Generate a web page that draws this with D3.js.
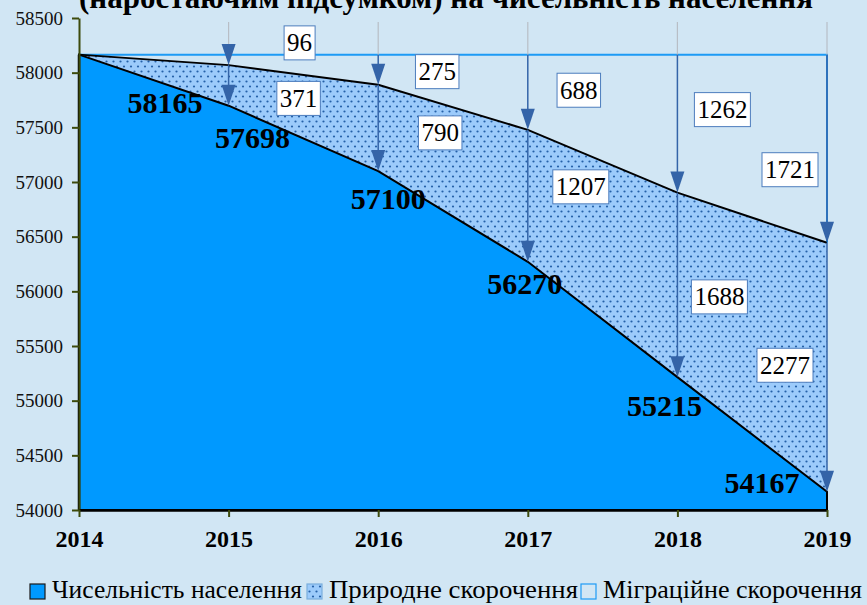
<!DOCTYPE html>
<html>
<head>
<meta charset="utf-8">
<script src="https://cdn.jsdelivr.net/npm/d3@7"></script>
<style>
  body { margin: 0; background: #d1e6f4; }
  svg { display: block; }
  svg text { font-family: "Liberation Serif", "Times New Roman", serif; }
</style>
</head>
<body>
<svg width="867" height="605"></svg>
<script>
const years = [2014, 2015, 2016, 2017, 2018, 2019];
const population = [58165, 57698, 57100, 56270, 55215, 54167];
const naturalDecrease = [0, 371, 790, 1207, 1688, 2277];
const migrationDecrease = [0, 96, 275, 688, 1262, 1721];
const yTicks = [54000, 54500, 55000, 55500, 56000, 56500, 57000, 57500, 58000, 58500];
const legendLabels = ["Чисельність населення", "Природне скорочення", "Міграційне скорочення"];
const title = "(наростаючим підсумком) на чисельність населення";

const svg = d3.select("svg");
const base = population[0];

const xs = d3.scaleLinear().domain([2014, 2019]).range([79, 827]);
const ys = d3.scaleLinear().domain([54000, 58500]).range([510, 18]);

const rows = years.map((yr, i) => ({
  year: yr,
  pop: population[i],
  nat: naturalDecrease[i],
  mig: migrationDecrease[i],
  upper: population[i] + naturalDecrease[i]
}));

// dotted pattern for natural decrease
const defs = svg.append("defs");
const pat = defs.append("pattern")
  .attr("id", "dots")
  .attr("patternUnits", "userSpaceOnUse")
  .attr("width", 7).attr("height", 10);
pat.append("rect").attr("width", 7).attr("height", 10).attr("fill", "#9ccbfb");
pat.append("circle").attr("cx", 1.5).attr("cy", 1.5).attr("r", 1.1).attr("fill", "#2460a8");
pat.append("circle").attr("cx", 5).attr("cy", 6.5).attr("r", 1.1).attr("fill", "#2460a8");

// title (top is cut off in the original)
svg.append("text")
  .attr("x", 446).attr("y", 8)
  .attr("text-anchor", "middle")
  .attr("font-weight", "bold")
  .attr("font-size", 31)
  .text(title);

// migration area
svg.append("path")
  .datum(rows)
  .attr("fill", "#d1e6f4")
  .attr("d", d3.area().x(d => xs(d.year)).y0(d => ys(d.upper)).y1(ys(base)));

svg.append("path")
  .datum([{ x: 2014, y: base }, { x: 2019, y: base }, { x: 2019, y: rows[5].upper }])
  .attr("fill", "none")
  .attr("stroke", "#1d9bf5")
  .attr("stroke-width", 2)
  .attr("d", d3.line().x(d => xs(d.x)).y(d => ys(d.y)));

// natural decrease area
svg.append("path")
  .datum(rows)
  .attr("fill", "url(#dots)")
  .attr("d", d3.area().x(d => xs(d.year)).y0(d => ys(d.pop)).y1(d => ys(d.upper)));

svg.append("path")
  .datum(rows)
  .attr("fill", "none")
  .attr("stroke", "#000")
  .attr("stroke-width", 2)
  .attr("d", d3.line().x(d => xs(d.year)).y(d => ys(d.upper)));

// population area
svg.append("path")
  .datum(rows)
  .attr("fill", "#0099ff")
  .attr("stroke", "#000")
  .attr("stroke-width", 2)
  .attr("d", d3.area().x(d => xs(d.year)).y0(ys(54000)).y1(d => ys(d.pop)));
svg.append("path")
  .datum([[2014, 54000], [2014, base]])
  .attr("stroke", "#000").attr("stroke-width", 2.5)
  .attr("d", d3.line().x(d => xs(d[0])).y(d => ys(d[1])));

// axes
const yAxis = svg.append("g")
  .attr("transform", `translate(${xs(2014)},0)`)
  .call(d3.axisLeft(ys).tickValues(yTicks).tickSize(7).tickSizeOuter(0).tickPadding(9).tickFormat(d3.format("d")));
yAxis.attr("font-family", null);
yAxis.select(".domain").attr("stroke", "#3d4b0c").attr("stroke-width", 2);
yAxis.selectAll(".tick line").attr("stroke", "#3d4b0c").attr("stroke-width", 2);
yAxis.selectAll(".tick text").attr("font-size", 19).attr("fill", "#111");

const xAxis = svg.append("g")
  .attr("transform", `translate(0,${ys(54000)})`)
  .call(d3.axisBottom(xs).tickValues(years).tickSize(7).tickSizeOuter(0).tickPadding(16).tickFormat(d3.format("d")));
xAxis.attr("font-family", null);
xAxis.select(".domain").attr("stroke", "#000").attr("stroke-width", 2.5);
xAxis.selectAll(".tick line").attr("stroke", "#3d4b0c").attr("stroke-width", 2);
xAxis.selectAll(".tick text").attr("font-size", 24).attr("font-weight", "bold").attr("fill", "#000")
  .attr("dy", "0.6em");

// arrows
const arrowColor = "#3464a8";
const arrows = svg.append("g");
function arrow(x, y0, y1) {
  arrows.append("line")
    .attr("x1", x).attr("x2", x).attr("y1", y0).attr("y2", y1 - 4)
    .attr("stroke", arrowColor).attr("stroke-width", 1.5);
  arrows.append("path")
    .attr("fill", arrowColor)
    .attr("d", `M${x - 7},${y1 - 21}L${x + 7},${y1 - 21}L${x},${y1}Z`);
}
rows.slice(1).forEach(d => {
  const x = xs(d.year);
  arrows.append("line")
    .attr("x1", x).attr("x2", x).attr("y1", 22).attr("y2", ys(base))
    .attr("stroke", "#b8bec6").attr("stroke-width", 1.2);
  arrow(x, ys(base), ys(d.upper));
  arrow(x, ys(d.upper), ys(d.pop));
});

// population labels
const popNudge = [[86, 48], [24, 32], [10, 27], [-3, 22], [-13, 28], [-65, -9]];
svg.append("g").selectAll("text")
  .data(rows)
  .join("text")
  .attr("x", (d, i) => xs(d.year) + popNudge[i][0])
  .attr("y", (d, i) => ys(d.pop) + popNudge[i][1])
  .attr("text-anchor", "middle")
  .attr("dominant-baseline", "central")
  .attr("font-size", 30)
  .attr("font-weight", "bold")
  .text(d => d.pop);

// boxed labels
const migNudge = [[71, -17], [59, 2], [51, -2], [45, -14], [-37, 21]];
const natNudge = [[70, 13], [62, 5], [53, -9], [42, 12], [-42, -2]];
function boxLabel(x, y, txt) {
  const g = svg.append("g").attr("transform", `translate(${x},${y})`);
  const t = g.append("text")
    .attr("text-anchor", "middle")
    .attr("dominant-baseline", "central")
    .attr("font-size", 25)
    .text(txt);
  const w = t.node().getComputedTextLength() + 6;
  g.insert("rect", "text")
    .attr("x", -w / 2).attr("y", -17)
    .attr("width", w).attr("height", 34)
    .attr("fill", "#fff")
    .attr("stroke", "#4d7dbd").attr("stroke-width", 1);
}
rows.slice(1).forEach((d, i) => {
  const x = xs(d.year);
  boxLabel(x + migNudge[i][0], (ys(base) + ys(d.upper)) / 2 + migNudge[i][1], d.mig);
  boxLabel(x + natNudge[i][0], (ys(d.upper) + ys(d.pop)) / 2 + natNudge[i][1], d.nat);
});

// legend
const legendFills = ["#0099ff", "url(#dots)", "#d1e6f4"];
const legendStrokes = ["#1a1a1a", "#7aaedd", "#1d9bf5"];
const legendX = [30, 307, 581];
const legendW = [250, 249, 259];
const legend = svg.append("g");
legendLabels.forEach((lab, i) => {
  legend.append("rect")
    .attr("x", legendX[i]).attr("y", 584).attr("width", 15).attr("height", 15)
    .attr("fill", legendFills[i]).attr("stroke", legendStrokes[i]).attr("stroke-width", 1.2);
  legend.append("text")
    .attr("x", legendX[i] + 22).attr("y", 598)
    .attr("font-size", 25)
    .attr("textLength", legendW[i])
    .attr("lengthAdjust", "spacingAndGlyphs")
    .text(lab);
});
</script>
</body>
</html>
